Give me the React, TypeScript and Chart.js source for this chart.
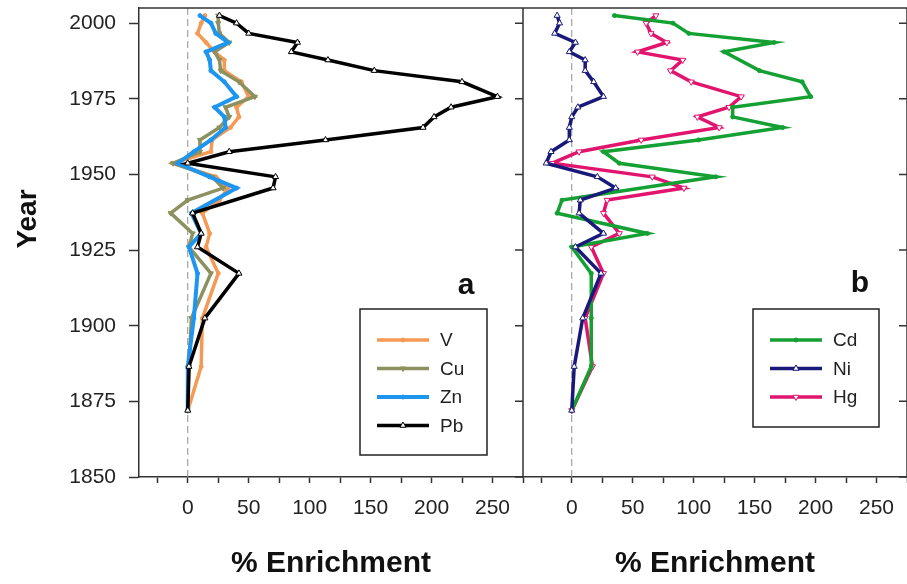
import React, { useEffect, useRef } from "react";
import { Chart, registerables } from "chart.js";

Chart.register(...registerables);

const FONT = "'Liberation Sans', Arial, Helvetica, sans-serif";

// Sample years (shared by all series)
const years = [
  2002.5, 2000, 1996.6, 1993.6, 1990.5, 1987.8, 1984.3, 1980.6, 1975.7, 1972.2,
  1969, 1965.5, 1961.4, 1957.5, 1953.7, 1949.2, 1945.5, 1941.5, 1937.2, 1930.5,
  1926, 1917.3, 1902.5, 1886.5, 1872,
];

// Panel a (% enrichment)
const vValues = [14, 11, 8, 15, 22, 30, 30, 44, 50, 40, 42, 35, 20, 19, -12, 23, 33, 26, 12, 18, 15, 25, 12, 11, 0];
const cuValues = [25, 25, 26, 34, 22, 26, 27, 42, 55, 31, 34, 26, 10, 10, -12, 20, 29, 0, -14, 4, 1, 19, 3, 1, 0];
const znValues = [10, 19, 23, 33, 15, 18, 19, 30, 40, 22, 30, 31, 19, 5, -8, 18, 40, null, 3, 11, 1, 8, 5, 0, 0];
const pbValues = [26, 40, 50, 90, 85, 115, 153, 225, 254, 216, 202, 193, 113, 34, 0, 72, 70, null, 4, 11, 8, 42, 14, 1, 0];

// Panel b (% enrichment)
const cdValues = [35, 83, 96, 166, 125, null, 154, 189, 196, 132, 132, 173, 104, 26, 39, 118, null, -8, -12, 62, 0, 16, 16, 16, 0];
const niValues = [-12, -10, -14, 3, -2, 11, 11, 18, 26, 5, 0, -2, -2, -17, -21, 21, 36, 7, 6, 26, 3, 24, 9, 2, 0];
const hgValues = [69, 61, 65, 78, 54, 91, 81, 98, 139, 129, 103, 121, 57, 6, -16, 66, 92, 29, 26, 39, 16, 26, 11, 17, 0];

const panelALabels = ["V", "Cu", "Zn", "Pb"];
const panelBLabels = ["Cd", "Ni", "Hg"];

const yearMin = 1850;
const yearMax = 2005;
const yearStep = 25;
const enrichMin = -40;
const enrichMax = 275;
const enrichStep = 25;

type SeriesStyle = {
  color: string;
  point: "circle" | "triangle";
  rot: number;
  hollow: boolean;
  radius: number;
  width: number;
  order: number;
};

const styles: Record<string, SeriesStyle> = {
  V: { color: "#F59A55", point: "circle", rot: 0, hollow: false, radius: 2, width: 3.5, order: 4 },
  Cu: { color: "#8C915F", point: "triangle", rot: 180, hollow: false, radius: 3, width: 3.5, order: 3 },
  Zn: { color: "#1E96F0", point: "circle", rot: 0, hollow: false, radius: 2, width: 4, order: 2 },
  Pb: { color: "#000000", point: "triangle", rot: 0, hollow: true, radius: 3.5, width: 3.5, order: 1 },
  Cd: { color: "#14A032", point: "circle", rot: 0, hollow: false, radius: 2, width: 3.5, order: 2 },
  Ni: { color: "#19197A", point: "triangle", rot: 0, hollow: true, radius: 3.5, width: 3.5, order: 1 },
  Hg: { color: "#E1146E", point: "triangle", rot: 180, hollow: true, radius: 3.5, width: 3.5, order: 3 },
};

const seriesValues: Record<string, (number | null)[]> = {
  V: vValues,
  Cu: cuValues,
  Zn: znValues,
  Pb: pbValues,
  Cd: cdValues,
  Ni: niValues,
  Hg: hgValues,
};

function toPoints(vals: (number | null)[]) {
  const pts: { x: number; y: number }[] = [];
  years.forEach((yr, i) => {
    const v = vals[i];
    if (v !== null && v !== undefined) pts.push({ x: v, y: yr });
  });
  return pts;
}

function makeDataset(label: string, axis: string) {
  const s = styles[label];
  return {
    label,
    data: toPoints(seriesValues[label]),
    xAxisID: axis,
    yAxisID: "y",
    borderColor: s.color,
    backgroundColor: s.hollow ? "#ffffff" : s.color,
    borderWidth: s.width,
    pointStyle: s.point,
    pointRotation: s.rot,
    pointRadius: s.radius,
    pointBorderWidth: 1,
    pointBorderColor: s.color,
    pointBackgroundColor: s.hollow ? "#ffffff" : s.color,
    tension: 0,
    fill: false,
    order: s.order,
  };
}

function drawMarker(ctx: CanvasRenderingContext2D, s: SeriesStyle, x: number, y: number) {
  ctx.save();
  ctx.fillStyle = s.hollow ? "#ffffff" : s.color;
  ctx.strokeStyle = s.color;
  ctx.lineWidth = 1;
  ctx.setLineDash([]);
  ctx.beginPath();
  if (s.point === "circle") {
    ctx.arc(x, y, s.radius, 0, Math.PI * 2);
  } else {
    const r = s.radius;
    const dir = s.rot === 180 ? -1 : 1;
    ctx.moveTo(x, y - dir * r);
    ctx.lineTo(x - r * 0.87, y + dir * r * 0.5);
    ctx.lineTo(x + r * 0.87, y + dir * r * 0.5);
    ctx.closePath();
  }
  ctx.fill();
  ctx.stroke();
  ctx.restore();
}

const legendBoxes = [
  { axis: "xa", labels: panelALabels, letter: "a", left: 360, top: 309, width: 127, height: 146, letterX: 466, letterY: 286 },
  { axis: "xb", labels: panelBLabels, letter: "b", left: 753, top: 309, width: 126, height: 118, letterX: 860, letterY: 284 },
];

const yTitle = { text: "Year", x: 28, y: 219 };

const decorPlugin = {
  id: "decor",
  beforeDatasetsDraw(chart: any) {
    const { ctx, chartArea } = chart;
    ctx.save();
    ctx.strokeStyle = "#8f8f8f";
    ctx.lineWidth = 1;
    ctx.setLineDash([7, 4]);
    for (const id of ["xa", "xb"]) {
      const x = chart.scales[id].getPixelForValue(0);
      ctx.beginPath();
      ctx.moveTo(x, chartArea.top);
      ctx.lineTo(x, chartArea.bottom);
      ctx.stroke();
    }
    ctx.restore();
  },
  afterDraw(chart: any) {
    const { ctx, chartArea } = chart;
    const ys = chart.scales.y;
    const xa = chart.scales.xa;
    const xb = chart.scales.xb;
    ctx.save();
    ctx.strokeStyle = "#333333";
    ctx.lineWidth = 1.5;
    ctx.setLineDash([]);
    ctx.beginPath();
    ctx.moveTo(chartArea.left, chartArea.top);
    ctx.lineTo(chartArea.right, chartArea.top);
    for (const s of [xa, xb]) {
      ctx.moveTo(s.right, chartArea.top);
      ctx.lineTo(s.right, chartArea.bottom);
    }
    for (const t of ys.ticks) {
      const py = ys.getPixelForValue(t.value);
      for (const s of [xa, xb]) {
        ctx.moveTo(s.right - 8, py);
        ctx.lineTo(s.right, py);
      }
    }
    ctx.stroke();

    // y axis title
    ctx.save();
    ctx.translate(yTitle.x, yTitle.y);
    ctx.rotate(-Math.PI / 2);
    ctx.fillStyle = "#111111";
    ctx.font = `bold 28px ${FONT}`;
    ctx.textAlign = "center";
    ctx.textBaseline = "middle";
    ctx.fillText(yTitle.text, 0, 0);
    ctx.restore();

    for (const box of legendBoxes) {
      // panel letter
      ctx.fillStyle = "#111111";
      ctx.font = `bold 30px ${FONT}`;
      ctx.textAlign = "center";
      ctx.textBaseline = "middle";
      ctx.fillText(box.letter, box.letterX, box.letterY);

      // legend frame
      ctx.strokeStyle = "#222222";
      ctx.lineWidth = 1.5;
      ctx.strokeRect(box.left, box.top, box.width, box.height);

      box.labels.forEach((label, i) => {
        const s = styles[label];
        const cy = box.top + 31 + i * 28.5;
        ctx.save();
        ctx.strokeStyle = s.color;
        ctx.lineWidth = s.width;
        ctx.beginPath();
        ctx.moveTo(box.left + 17, cy);
        ctx.lineTo(box.left + 69, cy);
        ctx.stroke();
        ctx.restore();
        drawMarker(ctx, s, box.left + 43, cy);
        ctx.fillStyle = "#222222";
        ctx.font = `19px ${FONT}`;
        ctx.textAlign = "left";
        ctx.textBaseline = "middle";
        ctx.fillText(label, box.left + 80, cy + 1);
      });
    }
    ctx.restore();
  },
};

function xScale(stackWeight: number) {
  return {
    type: "linear",
    position: "bottom",
    stack: "panels",
    stackWeight,
    min: enrichMin,
    max: enrichMax,
    ticks: {
      stepSize: enrichStep,
      includeBounds: false,
      autoSkip: false,
      maxRotation: 0,
      minRotation: 0,
      padding: 13,
      color: "#222222",
      font: { family: FONT, size: 21 },
      callback: (v: number) => (v % 50 === 0 ? String(v) : ""),
    },
    grid: {
      display: true,
      drawOnChartArea: false,
      drawTicks: true,
      tickLength: 6,
      tickColor: "#333333",
      tickWidth: 1.5,
    },
    border: { display: true, color: "#333333", width: 1.5 },
    title: {
      display: true,
      text: "% Enrichment",
      color: "#111111",
      font: { family: FONT, size: 30, weight: "bold" },
      padding: { top: 0, bottom: 2 },
    },
    afterFit: (s: any) => {
      s.height = 107;
      s.paddingLeft = 0;
      s.paddingRight = 0;
    },
  };
}

export default function App() {
  const ref = useRef<HTMLCanvasElement | null>(null);

  useEffect(() => {
    if (!ref.current) return;
    const datasets = [
      ...panelALabels.map((l) => makeDataset(l, "xa")),
      ...panelBLabels.map((l) => makeDataset(l, "xb")),
    ];
    const chart = new Chart(ref.current, {
      type: "line",
      data: { datasets } as any,
      plugins: [decorPlugin],
      options: {
        responsive: false,
        animation: false,
        devicePixelRatio: 1,
        layout: { padding: { left: 0, top: 8, right: 4, bottom: 0 } },
        plugins: {
          legend: { display: false },
          tooltip: { enabled: false },
          title: { display: false },
        },
        scales: {
          y: {
            type: "linear",
            position: "left",
            min: yearMin,
            max: yearMax,
            ticks: {
              stepSize: yearStep,
              includeBounds: false,
              padding: 13,
              color: "#222222",
              font: { family: FONT, size: 21 },
              callback: (v: number) => String(v),
            },
            grid: {
              display: true,
              drawOnChartArea: false,
              drawTicks: true,
              tickLength: 10,
              tickColor: "#333333",
              tickWidth: 1.5,
            },
            border: { display: true, color: "#333333", width: 1.5 },
            title: { display: false },
            afterFit: (s: any) => {
              s.width = 139;
              s.paddingTop = 0;
              s.paddingBottom = 0;
            },
          },
          xa: xScale(1),
          xb: xScale(1),
        } as any,
      },
    });
    return () => chart.destroy();
  }, []);

  return (
    <div
      style={{
        position: "fixed",
        left: 0,
        top: 0,
        width: 907,
        height: 584,
        overflow: "hidden",
        background: "#ffffff",
      }}
    >
      <canvas ref={ref} width={912} height={584} style={{ display: "block" }} />
    </div>
  );
}
